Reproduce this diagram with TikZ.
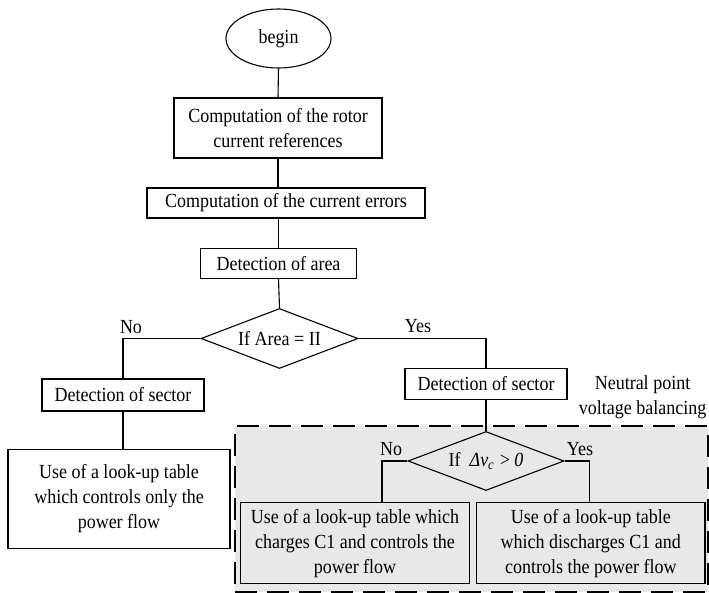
\documentclass[tikz,border=0pt]{standalone}
\usepackage{fontspec}
\setmainfont{Liberation Serif}[FakeStretch=0.9]
\usetikzlibrary{shapes.geometric, positioning}
\definecolor{regioncolor}{RGB}{232, 232, 232}

\begin{document}
\begin{tikzpicture}[
    x=1pt, y=-1pt,
    every node/.style={font=\fontsize{20}{25}\selectfont},
    step box/.style={draw, line width=1.1pt, inner sep=0pt, align=center},
    decision/.style={draw, diamond, line width=1.1pt, inner sep=0pt, aspect=2.6},
    region/.style={draw, fill=regioncolor, line width=2pt, dash pattern=on 22pt off 10pt, minimum width=473pt, minimum height=166pt},
    link/.style={line width=1.1pt}
]
    \useasboundingbox (0,0) rectangle (709,593);

    % Balancing region
    \node[region] (balance) at (471.5,508.5) {};
    \node[align=center] (balancelabel) at (642.5,397) {Neutral point\\voltage balancing};

    % Main chain
    \node[draw, ellipse, line width=1.1pt, minimum width=105pt, minimum height=59pt, inner sep=0pt] (begin) at (278.5,38.5) {begin};
    \node[step box, minimum width=208pt, minimum height=60pt] (rotor) at (278,128) {Computation of the rotor\\current references};
    \node[step box, minimum width=278pt, minimum height=30pt] (errors) at (286,203) {Computation of the current errors};
    \node[step box, minimum width=156pt, minimum height=30pt] (area) at (278.5,263.3) {Detection of area};
    \node[decision, minimum width=157pt, minimum height=60pt] (ifarea) at (279.5,338.5) {If Area = II};

    % Left branch
    \node (no1) at (131,327) {No};
    \node[step box, minimum width=162pt, minimum height=32pt] (sectorl) at (123,395) {Detection of sector};
    \node[step box, minimum width=222pt, minimum height=99pt] (tablel) at (119,498.7) {Use of a look-up table\\which controls only the\\power flow};

    % Right branch
    \node (yes1) at (418,326) {Yes};
    \node[step box, minimum width=162pt, minimum height=31pt] (sectorr) at (486,383.7) {Detection of sector};
    \node[decision, fill=regioncolor, minimum width=156pt, minimum height=59pt] (ifdelta) at (486,461) {If~~\textit{Δv\textsubscript{c} >\,0}};
    \node (no2) at (391,449) {No};
    \node (yes2) at (580,449) {Yes};
    \node[step box, fill=regioncolor, minimum width=228.6pt, minimum height=81pt] (charge) at (355,543.3) {Use of a look-up table which\\charges C1 and controls the\\power flow};
    \node[step box, fill=regioncolor, minimum width=228.3pt, minimum height=81pt] (discharge) at (590.8,543.3) {Use of a look-up table\\which discharges C1 and\\controls the power flow};

    % Connections
    \draw[link] (begin.south) -- (rotor.north);
    \draw[link] (rotor.south) -- (rotor.south |- errors.north);
    \draw[link] (errors.south -| area.north) -- (area.north);
    \draw[link] (area.south) -- (ifarea.north);
    \draw[link] (ifarea.west) -| (sectorl.north);
    \draw[link] (sectorl.south) -- (sectorl.south |- tablel.north);
    \draw[link] (ifarea.east) -| (sectorr.north);
    \draw[link] (sectorr.south) -- (ifdelta.north);
    \draw[link] (ifdelta.west) -| ([xshift=27pt]charge.north);
    \draw[link] (ifdelta.east) -| ([xshift=-1.5pt]discharge.north);
\end{tikzpicture}
\end{document}
